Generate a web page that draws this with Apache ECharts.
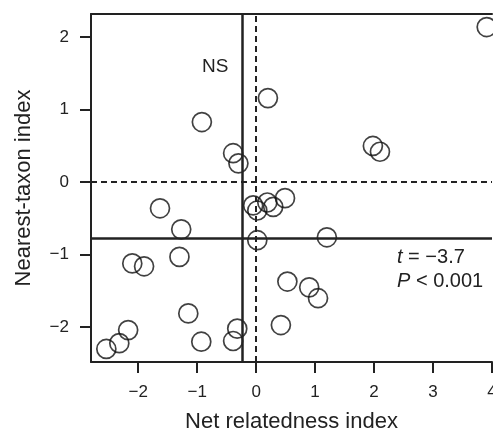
<!DOCTYPE html>
<html>
<head>
<meta charset="utf-8">
<script src="https://cdn.jsdelivr.net/npm/echarts@6/dist/echarts.min.js"></script>
<style>
html, body { margin: 0; padding: 0; background: #fff; }
#chart { width: 493px; height: 430px; }
</style>
</head>
<body>
<div id="chart"></div>
<script>
// net relatedness index (x) and nearest-taxon index (y), one pair per circle
var nri = [-0.92, -0.39, -0.30, -1.63, 3.91, 0.20, 1.98, 2.10, -0.05, 0.02,
           0.19, 0.29, 0.49, 0.02, 1.20, 0.53, 0.90, 1.05, 0.42, -1.27,
           -1.30, -2.10, -1.90, -1.15, -0.93, -2.17, -2.32, -2.54, -0.32, -0.39];
var nti = [0.83, 0.40, 0.26, -0.36, 2.14, 1.16, 0.50, 0.42, -0.32, -0.39,
           -0.28, -0.34, -0.22, -0.80, -0.76, -1.37, -1.45, -1.60, -1.97, -0.65,
           -1.03, -1.12, -1.16, -1.81, -2.20, -2.04, -2.22, -2.30, -2.02, -2.19];
var xTicks = [-2, -1, 0, 1, 2, 3, 4];
var yTicks = [-2, -1, 0, 1, 2];
// means (solid lines)
var meanNri = -0.24;
var meanNti = -0.77;

var points = nri.map(function (x, i) { return [x, nti[i]]; });
var minus = function (v) { return String(v).replace('-', '\u2212'); };
var ink = '#222';
var font = 'Liberation Sans, Arial, sans-serif';

var myChart = echarts.init(document.getElementById('chart'));
var option = {
    animation: false,
    grid: { left: 91, right: 1, top: 14, bottom: 68, outerBoundsMode: 'none' },
    xAxis: [{
        type: 'value',
        min: -2.8,
        max: 4.0,
        name: 'Net relatedness index',
        nameLocation: 'middle',
        nameGap: 49,
        nameTextStyle: { fontSize: 22, color: ink, fontFamily: font },
        splitLine: { show: false },
        axisLine: { show: true, onZero: false, lineStyle: { color: ink, width: 2 } },
        axisTick: { show: true, customValues: xTicks, length: 11, lineStyle: { color: ink, width: 2 } },
        axisLabel: { customValues: xTicks, margin: 22, fontSize: 17, color: ink, fontFamily: font, formatter: minus }
    }, {
        type: 'value',
        position: 'top',
        min: -2.8,
        max: 4.0,
        splitLine: { show: false },
        axisLine: { show: true, onZero: false, lineStyle: { color: ink, width: 2 } },
        axisTick: { show: false },
        axisLabel: { show: false }
    }],
    yAxis: {
        type: 'value',
        min: -2.48,
        max: 2.32,
        name: 'Nearest-taxon index',
        nameLocation: 'middle',
        nameGap: 56,
        nameTextStyle: { fontSize: 22, color: ink, fontFamily: font },
        splitLine: { show: false },
        axisLine: { show: true, onZero: false, lineStyle: { color: ink, width: 2 } },
        axisTick: { show: true, customValues: yTicks, length: 11, lineStyle: { color: ink, width: 2 } },
        axisLabel: { customValues: yTicks, margin: 22, fontSize: 17, color: ink, fontFamily: font, formatter: minus }
    },
    series: [{
        type: 'scatter',
        data: points,
        symbol: 'circle',
        symbolSize: 19,
        itemStyle: { color: 'rgba(0,0,0,0)', borderColor: '#111', borderWidth: 1.7 },
        markLine: {
            silent: true,
            symbol: 'none',
            label: { show: false },
            data: [
                { xAxis: 0, lineStyle: { type: [6, 4], width: 2, color: ink } },
                { yAxis: 0, lineStyle: { type: [6, 4], width: 2, color: ink } },
                { xAxis: meanNri, lineStyle: { type: 'solid', width: 2.5, color: ink } },
                { yAxis: meanNti, lineStyle: { type: 'solid', width: 2.5, color: ink } }
            ]
        }
    }],
    graphic: [
        { type: 'text', left: 202, top: 57, style: { text: 'NS', fontSize: 19, fill: ink, fontFamily: font } },
        {
            type: 'text', left: 397, top: 245,
            style: {
                text: '{i|t} = \u22123.7\n{i|P} < 0.001',
                fontSize: 20, lineHeight: 24, fill: ink, fontFamily: font,
                rich: { i: { fontStyle: 'italic', fontSize: 20, fontFamily: font, fill: ink } }
            }
        }
    ]
};
myChart.setOption(option);
</script>
</body>
</html>
